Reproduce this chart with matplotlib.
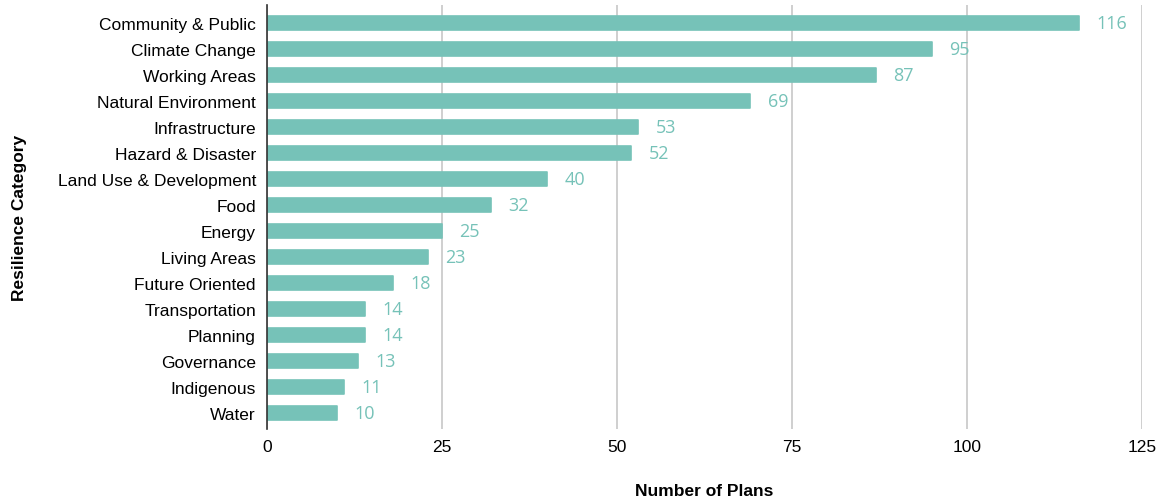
import matplotlib.pyplot as plt

categories = ["Community & Public", "Climate Change", "Working Areas", "Natural Environment",
              "Infrastructure", "Hazard & Disaster", "Land Use & Development", "Food",
              "Energy", "Living Areas", "Future Oriented", "Transportation", "Planning",
              "Governance", "Indigenous", "Water"]
plans = [116, 95, 87, 69, 53, 52, 40, 32, 25, 23, 18, 14, 14, 13, 11, 10]
xticks = [0, 25, 50, 75, 100, 125]

bar_color = "#76c2b8"

fig = plt.figure(figsize=(11.62, 5.02), dpi=100)
ax = fig.add_axes([0.2298, 0.1434, 0.7530, 0.8446])

y = list(range(len(categories)))
# thin edge with round joins gives the slightly rounded bar corners
ax.barh(y, plans, height=0.56, color=bar_color, edgecolor=bar_color,
        linewidth=1.2, joinstyle="round", zorder=3)

for yi, v in zip(y, plans):
    ax.text(v + 2.5, yi, str(v), va="center", ha="left", color=bar_color,
            fontsize=13, family="Open Sans")

ax.set_yticks(y)
ax.set_yticklabels(categories, fontsize=12.5, family="Liberation Sans")
ax.set_ylim(len(categories) - 0.38, -0.7)
ax.set_xlim(0, 125)
ax.set_xticks(xticks)
ax.set_xticklabels([str(t) for t in xticks], fontsize=12.5, family="Liberation Sans")
ax.tick_params(axis="y", length=0, pad=8)
ax.tick_params(axis="x", length=0, pad=7)

ax.grid(axis="x", color="#cccccc", linewidth=1.3, zorder=0)
for s in ["top", "right", "bottom"]:
    ax.spines[s].set_visible(False)
ax.spines["left"].set_color("#333333")
ax.spines["left"].set_linewidth(1.2)
ax.spines["left"].set_zorder(4)

ax.set_xlabel("Number of Plans", fontsize=12.5, fontweight="bold", family="Liberation Sans", labelpad=21)
ax.set_ylabel("Resilience Category", fontsize=12.5, fontweight="bold", family="Liberation Sans", labelpad=22)

fig.savefig("out.png", dpi=100)
